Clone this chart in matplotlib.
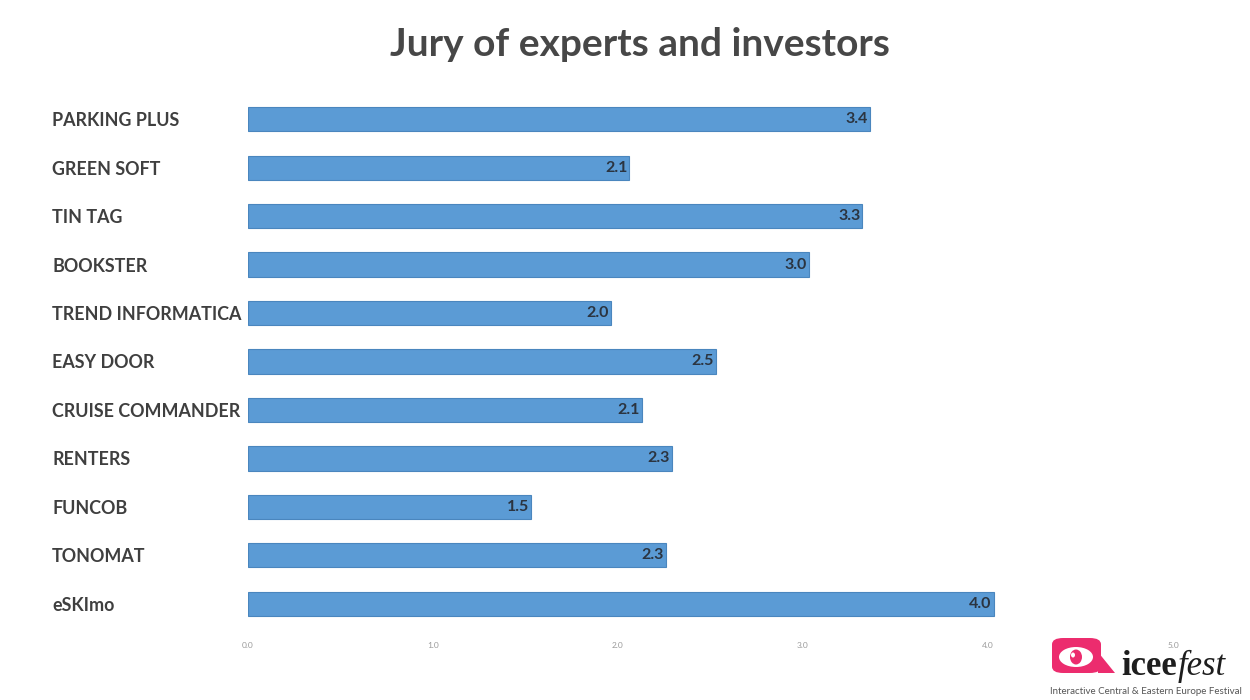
import matplotlib
matplotlib.use("Agg")
import matplotlib.pyplot as plt
from matplotlib.patches import FancyBboxPatch, Ellipse, Polygon

categories = ["PARKING PLUS", "GREEN SOFT", "TIN TAG", "BOOKSTER", "TREND INFORMATICA",
              "EASY DOOR", "CRUISE COMMANDER", "RENTERS", "FUNCOB", "TONOMAT", "eSKImo"]
scores = [3.36, 2.06, 3.32, 3.03, 1.96, 2.53, 2.13, 2.29, 1.53, 2.26, 4.03]
xticks = [0.0, 1.0, 2.0, 3.0, 4.0, 5.0]
title = "Jury of experts and investors"

plt.rcParams['font.family'] = ['Lato', 'DejaVu Sans']

W, H = 1250, 700
fig = plt.figure(figsize=(12.5, 7), dpi=100)
ax = fig.add_axes([248/W, 1-628/H, (1173-248)/W, (628-95)/H])

y = list(range(len(categories)))
ax.barh(y, scores, height=0.5, color="#5B9BD5", edgecolor="#4A86BE", linewidth=0.8)
for yi, v in zip(y, scores):
    ax.text(v - 0.01, yi, f"{v:.1f}", ha="right", va="center", fontsize=11.5,
            fontweight="bold", color="#2b3440")

ax.set_xlim(0, 5)
ax.set_ylim(len(categories) - 0.5, -0.5)
ax.set_xticks(xticks)
ax.set_xticklabels([f"{t:.1f}" for t in xticks], fontsize=6, color="#9a9a9a")
ax.set_yticks(y)
ax.set_yticklabels(categories, fontsize=12.9, fontweight="bold", color="#3f3f3f", ha="left")
ax.tick_params(axis="y", length=0, pad=141)
ax.tick_params(axis="x", length=0, pad=10)
for s in ax.spines.values():
    s.set_visible(False)

fig.text(640/W, 1-44/H, title, ha="center", va="center", fontsize=28,
         fontweight="bold", color="#474747")

# logo
pink = "#EC2C6E"
def fx(px):
    return px / W
def fy(py):
    return 1 - py / H
fig.patches.append(FancyBboxPatch((fx(1052), fy(673)), fx(1101) - fx(1052), fy(638) - fy(673),
                                  boxstyle="round,pad=0,rounding_size=0.009",
                                  transform=fig.transFigure, facecolor=pink, edgecolor="none"))
fig.patches.append(Polygon([[fx(1098), fy(652)], [fx(1115), fy(673)], [fx(1098), fy(673)]],
                           closed=True, transform=fig.transFigure,
                           facecolor=pink, edgecolor="none"))
fig.patches.append(Ellipse((fx(1076), fy(657)), 34/W, 20/H,
                           transform=fig.transFigure, facecolor="white", edgecolor="none"))
fig.patches.append(Ellipse((fx(1076), fy(657)), 12/W, 15/H,
                           transform=fig.transFigure, facecolor=pink, edgecolor="none"))
fig.patches.append(Ellipse((fx(1073), fy(655)), 4/W, 5/H,
                           transform=fig.transFigure, facecolor="white", edgecolor="none"))
t1 = fig.text(fx(1121), fy(675), "icee", fontsize=25, color="#1e1e1e", ha="left",
              va="baseline", family="Liberation Serif", fontweight="bold")
fig.canvas.draw()
bb = t1.get_window_extent()
fig.text(bb.x1 / W + 1/W, fy(675), "fest", fontsize=25, color="#1e1e1e", ha="left",
         va="baseline", style="italic", family="Liberation Serif")
fig.text(fx(1146), fy(692), "Interactive Central & Eastern Europe Festival", fontsize=7,
         color="#555555", ha="center", va="center")

fig.savefig("out.png", dpi=100, facecolor="white")
